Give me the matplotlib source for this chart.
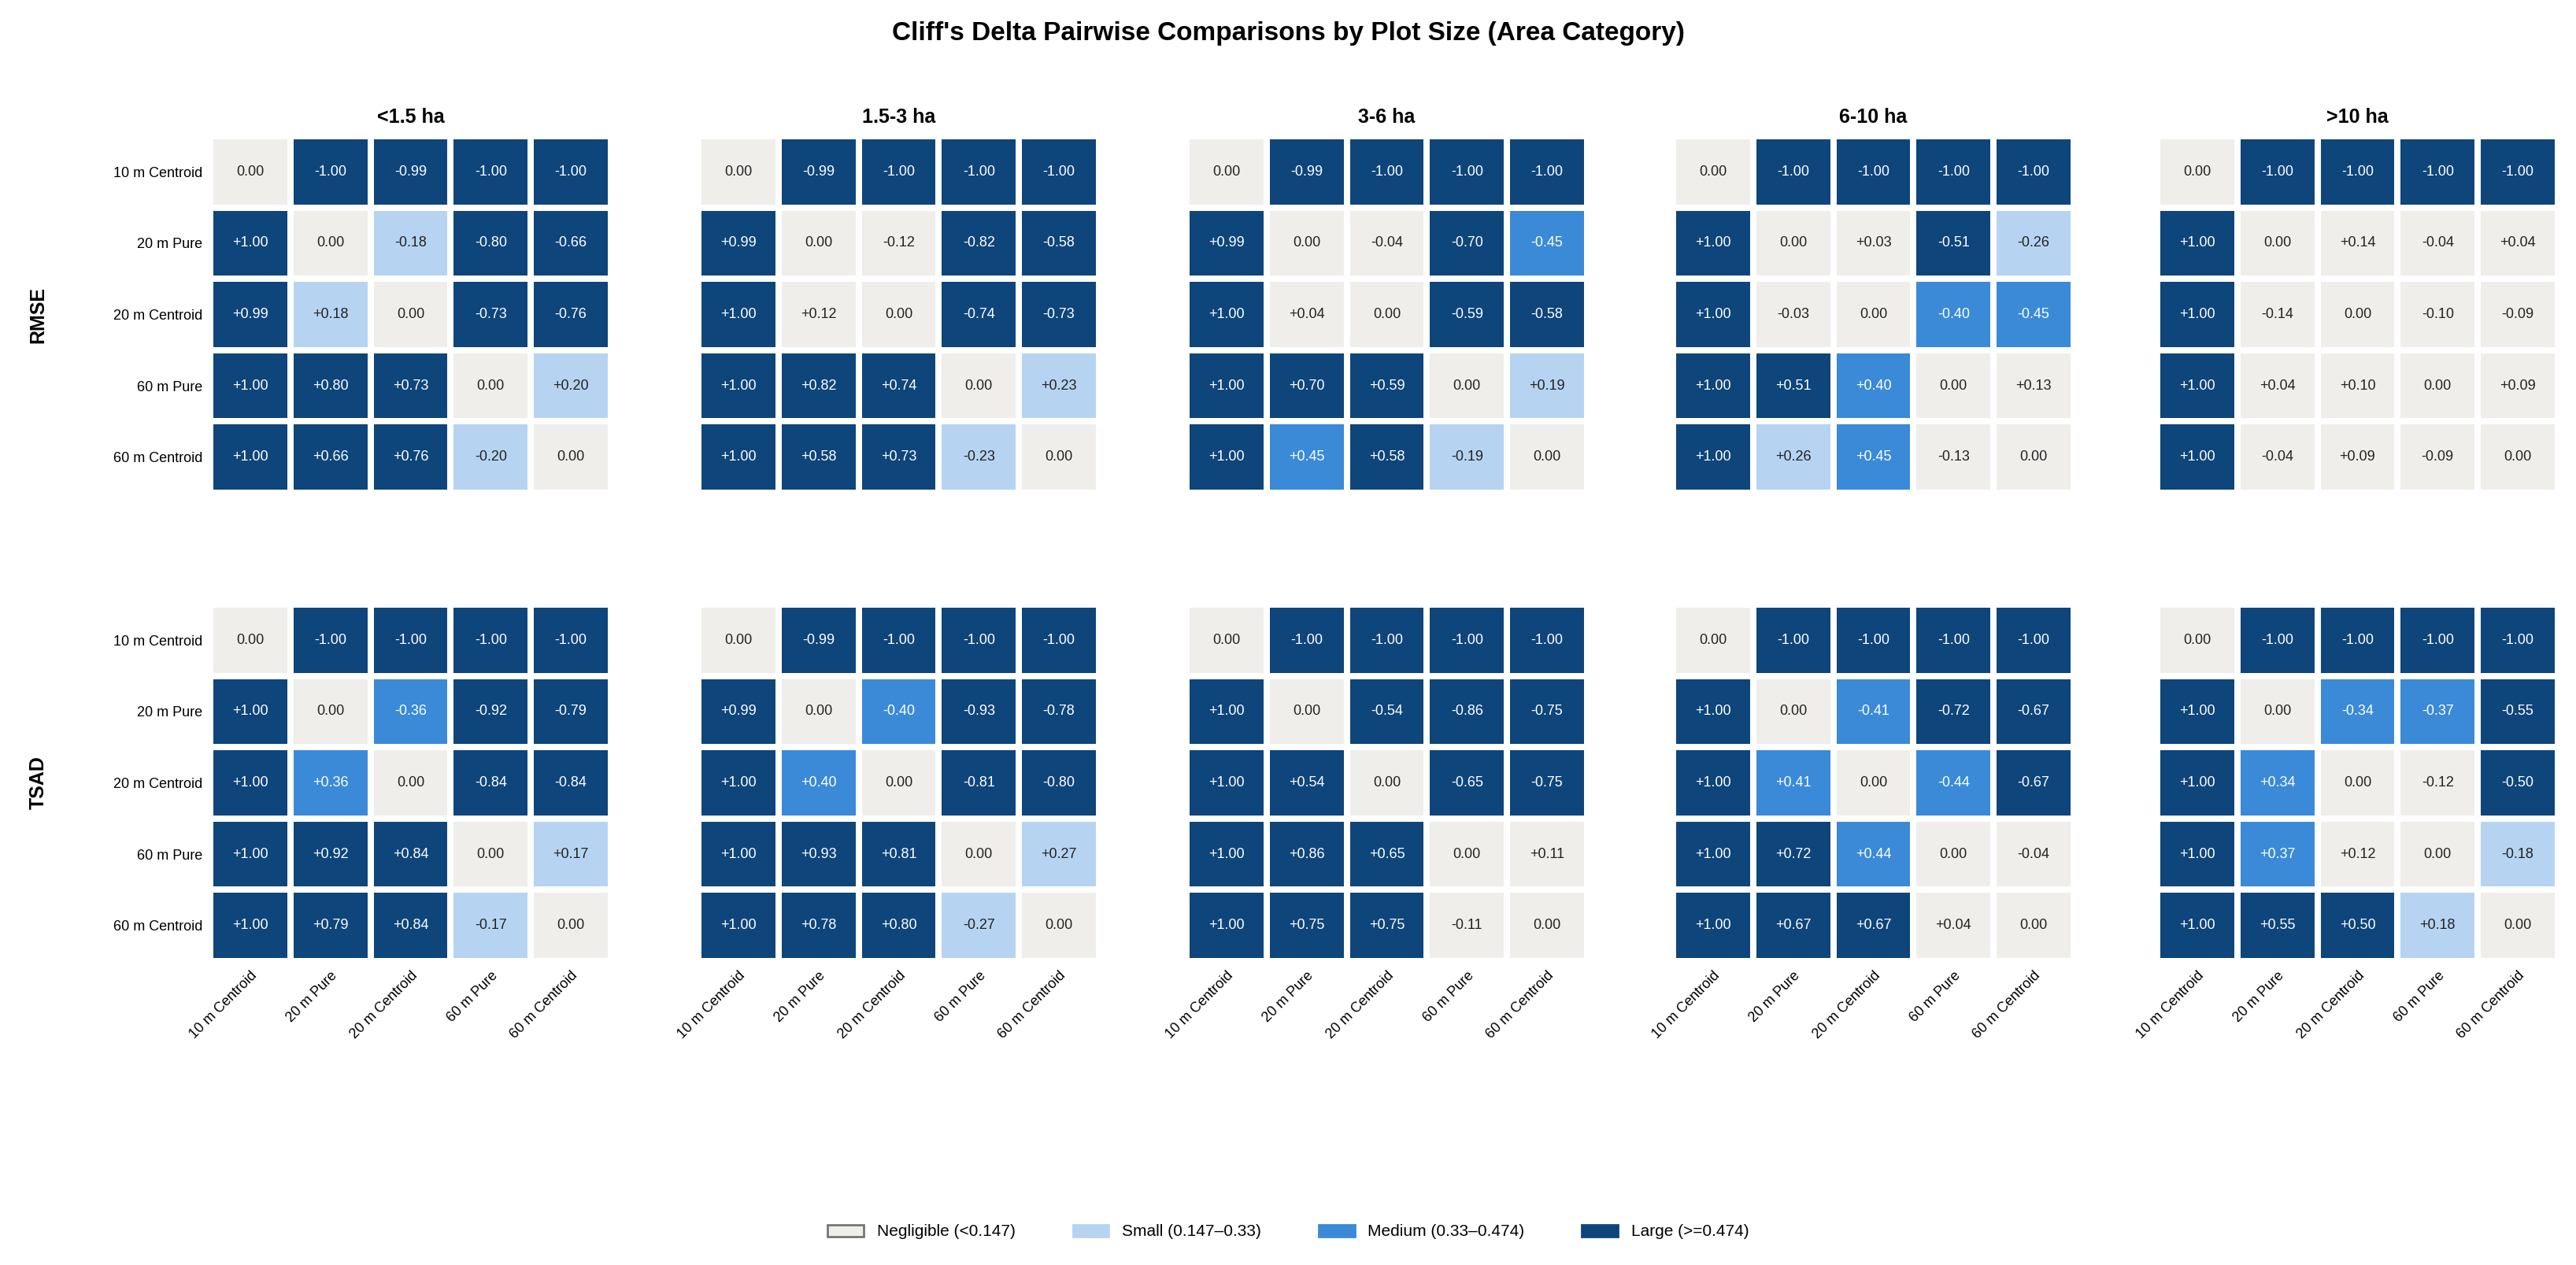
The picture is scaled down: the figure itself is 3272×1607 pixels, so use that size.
import numpy as np
import matplotlib
matplotlib.use('Agg')
import matplotlib.pyplot as plt
from matplotlib.colors import ListedColormap, BoundaryNorm
from matplotlib.patches import Patch

plt.rcParams['font.family'] = ['Liberation Sans', 'DejaVu Sans']

methods = ['10 m Centroid', '20 m Pure', '20 m Centroid', '60 m Pure', '60 m Centroid']
areas = ['<1.5 ha', '1.5-3 ha', '3-6 ha', '6-10 ha', '>10 ha']
metrics = ['RMSE', 'TSAD']

rmse_lt15 = [[0.00, -1.00, -0.99, -1.00, -1.00],
             [1.00, 0.00, -0.18, -0.80, -0.66],
             [0.99, 0.18, 0.00, -0.73, -0.76],
             [1.00, 0.80, 0.73, 0.00, 0.20],
             [1.00, 0.66, 0.76, -0.20, 0.00]]
rmse_15_3 = [[0.00, -0.99, -1.00, -1.00, -1.00],
             [0.99, 0.00, -0.12, -0.82, -0.58],
             [1.00, 0.12, 0.00, -0.74, -0.73],
             [1.00, 0.82, 0.74, 0.00, 0.23],
             [1.00, 0.58, 0.73, -0.23, 0.00]]
rmse_3_6 = [[0.00, -0.99, -1.00, -1.00, -1.00],
            [0.99, 0.00, -0.04, -0.70, -0.45],
            [1.00, 0.04, 0.00, -0.59, -0.58],
            [1.00, 0.70, 0.59, 0.00, 0.19],
            [1.00, 0.45, 0.58, -0.19, 0.00]]
rmse_6_10 = [[0.00, -1.00, -1.00, -1.00, -1.00],
             [1.00, 0.00, 0.03, -0.51, -0.26],
             [1.00, -0.03, 0.00, -0.40, -0.45],
             [1.00, 0.51, 0.40, 0.00, 0.13],
             [1.00, 0.26, 0.45, -0.13, 0.00]]
rmse_gt10 = [[0.00, -1.00, -1.00, -1.00, -1.00],
             [1.00, 0.00, 0.14, -0.04, 0.04],
             [1.00, -0.14, 0.00, -0.10, -0.09],
             [1.00, 0.04, 0.10, 0.00, 0.09],
             [1.00, -0.04, 0.09, -0.09, 0.00]]

tsad_lt15 = [[0.00, -1.00, -1.00, -1.00, -1.00],
             [1.00, 0.00, -0.36, -0.92, -0.79],
             [1.00, 0.36, 0.00, -0.84, -0.84],
             [1.00, 0.92, 0.84, 0.00, 0.17],
             [1.00, 0.79, 0.84, -0.17, 0.00]]
tsad_15_3 = [[0.00, -0.99, -1.00, -1.00, -1.00],
             [0.99, 0.00, -0.40, -0.93, -0.78],
             [1.00, 0.40, 0.00, -0.81, -0.80],
             [1.00, 0.93, 0.81, 0.00, 0.27],
             [1.00, 0.78, 0.80, -0.27, 0.00]]
tsad_3_6 = [[0.00, -1.00, -1.00, -1.00, -1.00],
            [1.00, 0.00, -0.54, -0.86, -0.75],
            [1.00, 0.54, 0.00, -0.65, -0.75],
            [1.00, 0.86, 0.65, 0.00, 0.11],
            [1.00, 0.75, 0.75, -0.11, 0.00]]
tsad_6_10 = [[0.00, -1.00, -1.00, -1.00, -1.00],
             [1.00, 0.00, -0.41, -0.72, -0.67],
             [1.00, 0.41, 0.00, -0.44, -0.67],
             [1.00, 0.72, 0.44, 0.00, -0.04],
             [1.00, 0.67, 0.67, 0.04, 0.00]]
tsad_gt10 = [[0.00, -1.00, -1.00, -1.00, -1.00],
             [1.00, 0.00, -0.34, -0.37, -0.55],
             [1.00, 0.34, 0.00, -0.12, -0.50],
             [1.00, 0.37, 0.12, 0.00, -0.18],
             [1.00, 0.55, 0.50, 0.18, 0.00]]

data = {'RMSE': [rmse_lt15, rmse_15_3, rmse_3_6, rmse_6_10, rmse_gt10],
        'TSAD': [tsad_lt15, tsad_15_3, tsad_3_6, tsad_6_10, tsad_gt10]}

colors = ['#efeeeb', '#b6d4f2', '#3a8ad8', '#0e457b']
labels = ['Negligible (<0.147)', 'Small (0.147\u20130.33)', 'Medium (0.33\u20130.474)', 'Large (>=0.474)']
cmap = ListedColormap(colors)
norm = BoundaryNorm([-0.5, 0.5, 1.5, 2.5, 3.5], 4)

W, H = 3273, 1607
fig = plt.figure(figsize=(W / 200, H / 200), dpi=200)
fig.suptitle("Cliff's Delta Pairwise Comparisons by Plot Size (Area Category)",
             fontsize=12, fontweight='bold', y=1 - 42 / H, va='center')

lefts = [267, 887, 1507, 2125, 2740]
tops = [173, 768]
pw, ph = 509, 453

for r, metric in enumerate(metrics):
    for c, area in enumerate(areas):
        vals = np.array(data[metric][c])
        mag = np.abs(vals)
        cat = np.digitize(mag, [0.147, 0.33, 0.474])
        ax = fig.add_axes([lefts[c] / W, 1 - (tops[r] + ph) / H, pw / W, ph / H])
        ax.pcolormesh(cat, cmap=cmap, norm=norm, edgecolors='white', linewidth=2.2)
        ax.set_xlim(0, 5)
        ax.set_ylim(5, 0)
        for i in range(5):
            for j in range(5):
                v = vals[i, j]
                s = '0.00' if v == 0 else '%+.2f' % v
                tc = 'white' if cat[i, j] >= 2 else '#222222'
                ax.text(j + 0.5, i + 0.5, s, ha='center', va='center', fontsize=6.5, color=tc)
        for sp in ax.spines.values():
            sp.set_visible(False)
        ax.tick_params(length=0)
        ax.set_xticks(np.arange(5) + 0.5)
        ax.set_yticks(np.arange(5) + 0.5)
        if r == 1:
            ax.set_xticklabels(methods, rotation=45, ha='right', rotation_mode='anchor', fontsize=6.5)
        else:
            ax.set_xticklabels([])
        if c == 0:
            ax.set_yticklabels(methods, fontsize=6.5)
            ax.set_ylabel(metric, fontsize=9, fontweight='bold', labelpad=30)
        else:
            ax.set_yticklabels([])
        if r == 0:
            ax.set_title(area, fontsize=9, fontweight='bold', pad=6)

handles = [Patch(facecolor=colors[k], edgecolor='#777777' if k == 0 else colors[k], label=labels[k])
           for k in range(4)]
fig.legend(handles=handles, loc='center', ncol=4, frameon=False, fontsize=7.5,
           bbox_to_anchor=(0.5, 1 - 1565 / H), columnspacing=3.5, handlelength=2.2)

fig.savefig('out.png', dpi=200, facecolor='white')
